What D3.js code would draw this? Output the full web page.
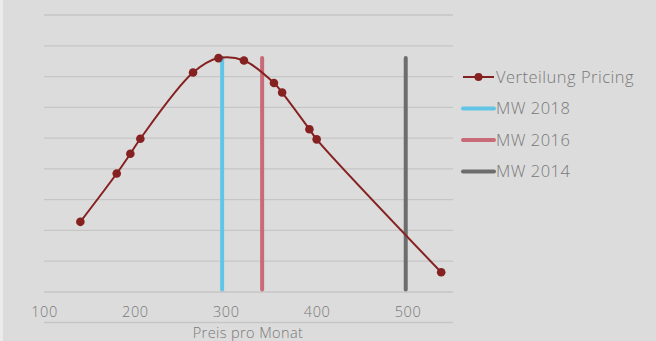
<!DOCTYPE html>
<html>
<head>
<meta charset="utf-8">
<script src="https://cdn.jsdelivr.net/npm/d3@7"></script>
<style>
  html, body { margin: 0; padding: 0; background: #dcdcdc; }
  svg { display: block; }
  text { font-family: "Open Sans", Lato, sans-serif; font-weight: 300; fill: #787878; }
</style>
</head>
<body>
<svg id="chart" width="656" height="341"></svg>
<script>
// Price distribution (Preis pro Monat -> relative frequency)
const prices = [140, 180, 195, 206, 264, 292, 320, 353, 362, 392, 400, 537];
const shares = [2.28, 3.85, 4.49, 4.98, 7.13, 7.60, 7.52, 6.79, 6.48, 5.29, 4.96, 0.64];

// Mean price markers by year
const meanYears = ["MW 2018", "MW 2016", "MW 2014"];
const meanPrices = [296, 340, 498];
const meanSpan = [0.08, 7.6];

const xTicks = [100, 200, 300, 400, 500];
const yTicks = d3.range(0, 10);

const colors = {
  pricing: "#862121",
  "MW 2018": "#62c5e5",
  "MW 2016": "#c86a77",
  "MW 2014": "#6d6d6d"
};

const svg = d3.select("#chart");
const W = 656, H = 341;

svg.append("rect").attr("width", W).attr("height", H).attr("fill", "#dcdcdc");
svg.append("rect").attr("width", 3).attr("height", H).attr("fill", "#ebebeb");

const x = d3.scaleLinear().domain([100, 550]).range([44, 453]);
const y = d3.scaleLinear().domain([0, 9]).range([292, 15]);

// horizontal gridlines
svg.append("g").selectAll("line").data(yTicks).join("line")
  .attr("x1", x(100)).attr("x2", x(550))
  .attr("y1", d => y(d)).attr("y2", d => y(d))
  .attr("stroke", "#c6c6c6").attr("stroke-width", 1.3);

// x axis labels
const xAxis = d3.axisBottom(x).tickValues(xTicks).tickSize(0).tickPadding(0).tickFormat(d3.format("d"));
const gx = svg.append("g").attr("transform", `translate(0,${y(0) + 25})`).call(xAxis);
gx.select(".domain").remove();
gx.selectAll("text").attr("font-size", 14.5).attr("dy", "0em")
  .style("letter-spacing", "0.6px")
  .style("font-family", "'Open Sans', sans-serif").style("font-weight", 300).attr("fill", "#787878");

// lower rule beneath the labels
svg.append("line")
  .attr("x1", x(100)).attr("x2", x(550))
  .attr("y1", 322.5).attr("y2", 322.5)
  .attr("stroke", "#c6c6c6").attr("stroke-width", 1.3);

svg.append("text").attr("x", 248).attr("y", 337.5)
  .attr("text-anchor", "middle").attr("font-size", 14.5)
  .style("letter-spacing", "0.4px").text("Preis pro Monat");

// mean price verticals
meanYears.forEach((name, i) => {
  svg.append("line")
    .attr("x1", x(meanPrices[i])).attr("x2", x(meanPrices[i]))
    .attr("y1", y(meanSpan[0])).attr("y2", y(meanSpan[1]))
    .attr("stroke", colors[name]).attr("stroke-width", 4)
    .attr("stroke-linecap", "round");
});

// distribution curve
const pts = prices.map((p, i) => [p, shares[i]]);
const line = d3.line().x(d => x(d[0])).y(d => y(d[1])).curve(d3.curveCatmullRom.alpha(0.5));
svg.append("path").datum(pts).attr("d", line)
  .attr("fill", "none").attr("stroke", colors.pricing).attr("stroke-width", 2);
svg.append("g").selectAll("circle").data(pts).join("circle")
  .attr("cx", d => x(d[0])).attr("cy", d => y(d[1])).attr("r", 4.3)
  .attr("fill", colors.pricing);

// legend
const legendItems = ["Verteilung Pricing", ...meanYears];
const legendY = [77, 108.5, 140, 171.5];
const lg = svg.append("g");
legendItems.forEach((name, i) => {
  const col = i === 0 ? colors.pricing : colors[name];
  lg.append("line").attr("x1", 463).attr("x2", 494)
    .attr("y1", legendY[i]).attr("y2", legendY[i])
    .attr("stroke", col).attr("stroke-width", i === 0 ? 2 : 4)
    .attr("stroke-linecap", i === 0 ? "butt" : "round");
  if (i === 0) {
    lg.append("circle").attr("cx", 478.5).attr("cy", legendY[i]).attr("r", 4).attr("fill", col);
  }
  lg.append("text").attr("x", 496).attr("y", legendY[i]).attr("dy", "0.36em")
    .attr("font-size", 16.5).style("letter-spacing", "0.5px").text(name);
});
</script>
</body>
</html>
